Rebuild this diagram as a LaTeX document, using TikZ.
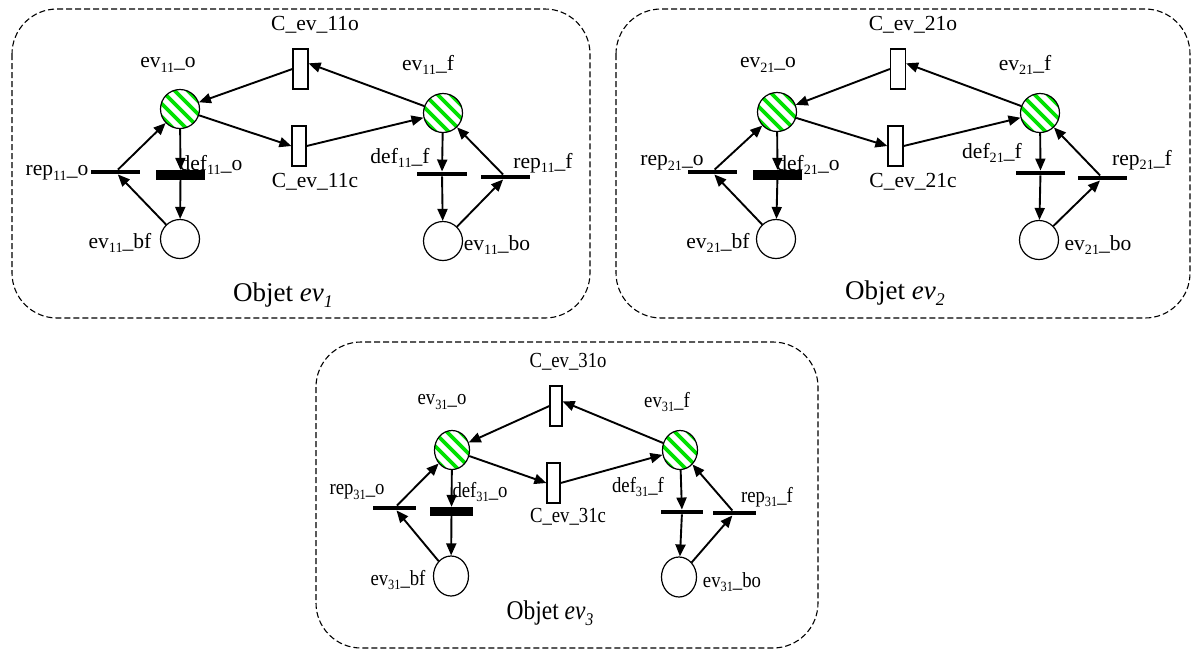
\documentclass[tikz,border=0pt]{standalone}
\usepackage{fontspec}
\setmainfont{Liberation Serif}
\usepackage{graphicx}
\usetikzlibrary{shapes.geometric,arrows.meta}
\definecolor{hatchgreen}{RGB}{0,225,0}
\newcommand\lsub[1]{\raisebox{-0.22em}{\scalebox{0.66}{#1}}}
\tikzset{
  place/.style={ellipse, draw, line width=1.2pt, fill=white, inner sep=0pt, minimum width=39pt, minimum height=39pt},
  hatched/.style={place, path picture={\foreach \d in {-65,-52,...,65}{\draw[line width=3.6pt, hatchgreen] ([xshift=\d pt]path picture bounding box.center) ++(-30pt,30pt) -- ++(60pt,-60pt);}}},
  trans/.style={rectangle, draw, line width=1.2pt, fill=white, inner sep=0pt, minimum width=15pt, minimum height=40pt},
  bar/.style={rectangle, fill=black, inner sep=0pt, minimum width=49pt, minimum height=4.5pt},
  thickbar/.style={bar, minimum height=10pt},
  lbl/.style={inner sep=0pt, font=\fontsize{21.5}{24}\selectfont},
  objlbl/.style={inner sep=0pt, font=\fontsize{27}{30}\selectfont},
  arr/.style={-{Triangle[length=12pt,width=10pt]}, line width=1.9pt},
  objbox/.style={draw, dash pattern=on 6pt off 3pt, line width=1.1pt, rounded corners=45pt},
}
\begin{document}
\begin{tikzpicture}[x=1pt,y=-1pt]
\useasboundingbox (0,0) rectangle (1192,649);

% ================= Panel 1 =================
\draw[objbox] (12,9) rectangle (590,318);
\node[hatched] (evo1) at (180,109) {};
\node[hatched] (evf1) at (443,113) {};
\node[place] (bf1) at (180,239) {};
\node[place] (bo1) at (443,241) {};
\node[trans] (co1) at (300.5,69) {};
\node[trans, minimum width=14pt] (cc1) at (299,146) {};
\node[bar] (repo1) at (115.5,172) {};
\node[thickbar] (defo1) at (180.5,175) {};
\node[bar, minimum width=50pt] (deff1) at (442,174) {};
\node[bar] (repf1) at (505.5,177) {};
\node[lbl] (lco1) at (315,25) {C\_ev\_11o};
\node[lbl] (levo1) at (168,65) {ev\lsub{11}\_o};
\node[lbl] (levf1) at (428,65) {ev\lsub{11}\_f};
\node[lbl] (lrepo1) at (57,173) {rep\lsub{11}\_o};
\node[lbl] (ldefo1) at (211,165) {def\lsub{11}\_o};
\node[lbl] (lcc1) at (315,182) {C\_ev\_11c};
\node[lbl] (ldeff1) at (400,158) {def\lsub{11}\_f};
\node[lbl] (lrepf1) at (543,163) {rep\lsub{11}\_f};
\node[lbl] (lbf1) at (120,243) {ev\lsub{11}\_bf};
\node[lbl] (lbo1) at (497,245) {ev\lsub{11}\_bo};
\node[objlbl] (lobj1) at (283,295) {Objet \textit{ev\lsub{1}}};
\draw[arr] (co1.west) -- (evo1);
\draw[arr] (evo1) -- (cc1.west);
\draw[arr] (cc1.east) -- (evf1);
\draw[arr] (evf1) -- (co1.35);
\draw[arr] (evo1) -- (defo1);
\draw[arr] (defo1) -- (bf1);
\draw[arr] (bf1) -- (repo1);
\draw[arr] (repo1) -- (evo1);
\draw[arr] (evf1) -- (deff1);
\draw[arr] (deff1) -- (bo1);
\draw[arr] (bo1) -- (repf1);
\draw[arr] (repf1) -- (evf1);

% ================= Panel 2 =================
\draw[objbox] (616,9) rectangle (1190,318);
\node[hatched] (evo2) at (777,112) {};
\node[hatched] (evf2) at (1040,113) {};
\node[place] (bf2) at (776,239) {};
\node[place] (bo2) at (1039,240) {};
\node[trans] (co2) at (898,69) {};
\node[trans] (cc2) at (895.5,146) {};
\node[bar] (repo2) at (712,172) {};
\node[thickbar] (defo2) at (777.5,175) {};
\node[bar] (deff2) at (1040.5,173) {};
\node[bar] (repf2) at (1102.5,178) {};
\node[lbl] (lco2) at (913,25) {C\_ev\_21o};
\node[lbl] (levo2) at (768,65) {ev\lsub{21}\_o};
\node[lbl] (levf2) at (1025,65) {ev\lsub{21}\_f};
\node[lbl] (lrepo2) at (672,163) {rep\lsub{21}\_o};
\node[lbl] (ldefo2) at (808,165) {def\lsub{21}\_o};
\node[lbl] (lcc2) at (913,182) {C\_ev\_21c};
\node[lbl] (ldeff2) at (992,153) {def\lsub{21}\_f};
\node[lbl] (lrepf2) at (1142,160) {rep\lsub{21}\_f};
\node[lbl] (lbf2) at (718,243) {ev\lsub{21}\_bf};
\node[lbl] (lbo2) at (1098,245) {ev\lsub{21}\_bo};
\node[objlbl] (lobj2) at (895,293) {Objet \textit{ev\lsub{2}}};
\draw[arr] (co2.west) -- (evo2);
\draw[arr] (evo2) -- (cc2.west);
\draw[arr] (cc2.east) -- (evf2);
\draw[arr] (evf2) -- (co2.35);
\draw[arr] (evo2) -- (defo2);
\draw[arr] (defo2) -- (bf2);
\draw[arr] (bf2) -- (repo2);
\draw[arr] (repo2) -- (evo2);
\draw[arr] (evf2) -- (deff2);
\draw[arr] (deff2) -- (bo2);
\draw[arr] (bo2) -- (repf2);
\draw[arr] (repf2) -- (evf2);

% ================= Panel 3 =================
\draw[objbox] (316,342) rectangle (818,648);
\node[hatched, minimum width=35pt, minimum height=39pt] (evo3) at (452,450) {};
\node[hatched, minimum width=35pt, minimum height=39pt] (evf3) at (680,450) {};
\node[place, minimum width=35pt, minimum height=40pt] (bf3) at (451,576) {};
\node[place, minimum width=35pt, minimum height=40pt] (bo3) at (679,577) {};
\node[trans, minimum width=12pt] (co3) at (556,406) {};
\node[trans, minimum width=13pt] (cc3) at (553.5,483) {};
\node[bar, minimum width=43pt] (repo3) at (394.5,508) {};
\node[thickbar, minimum width=43pt, minimum height=9pt] (defo3) at (451.5,511.5) {};
\node[bar, minimum width=42pt] (deff3) at (682,512) {};
\node[bar, minimum width=43pt] (repf3) at (734.5,513) {};
\node[lbl, xscale=0.87] (lco3) at (568,362) {C\_ev\_31o};
\node[lbl, xscale=0.87] (levo3) at (442,402) {ev\lsub{31}\_o};
\node[lbl, xscale=0.87] (levf3) at (667,402) {ev\lsub{31}\_f};
\node[lbl, xscale=0.87] (lrepo3) at (357,492) {rep\lsub{31}\_o};
\node[lbl, xscale=0.87] (ldefo3) at (480,492) {def\lsub{31}\_o};
\node[lbl, xscale=0.87] (lcc3) at (568,517) {C\_ev\_31c};
\node[lbl, xscale=0.87] (ldeff3) at (638,487) {def\lsub{31}\_f};
\node[lbl, xscale=0.87] (lrepf3) at (767,497) {rep\lsub{31}\_f};
\node[lbl, xscale=0.87] (lbf3) at (398,580) {ev\lsub{31}\_bf};
\node[lbl, xscale=0.87] (lbo3) at (732,582) {ev\lsub{31}\_bo};
\node[objlbl, xscale=0.87] (lobj3) at (550,613) {Objet \textit{ev\lsub{3}}};
\draw[arr] (co3.west) -- (evo3);
\draw[arr] (evo3) -- (cc3.west);
\draw[arr] (cc3.east) -- (evf3);
\draw[arr] (evf3) -- (co3.35);
\draw[arr] (evo3) -- (defo3);
\draw[arr] (defo3) -- (bf3);
\draw[arr] (bf3) -- (repo3);
\draw[arr] (repo3) -- (evo3);
\draw[arr] (evf3) -- (deff3);
\draw[arr] (deff3) -- (bo3);
\draw[arr] (bo3) -- (repf3);
\draw[arr] (repf3) -- (evf3);
\end{tikzpicture}
\end{document}
